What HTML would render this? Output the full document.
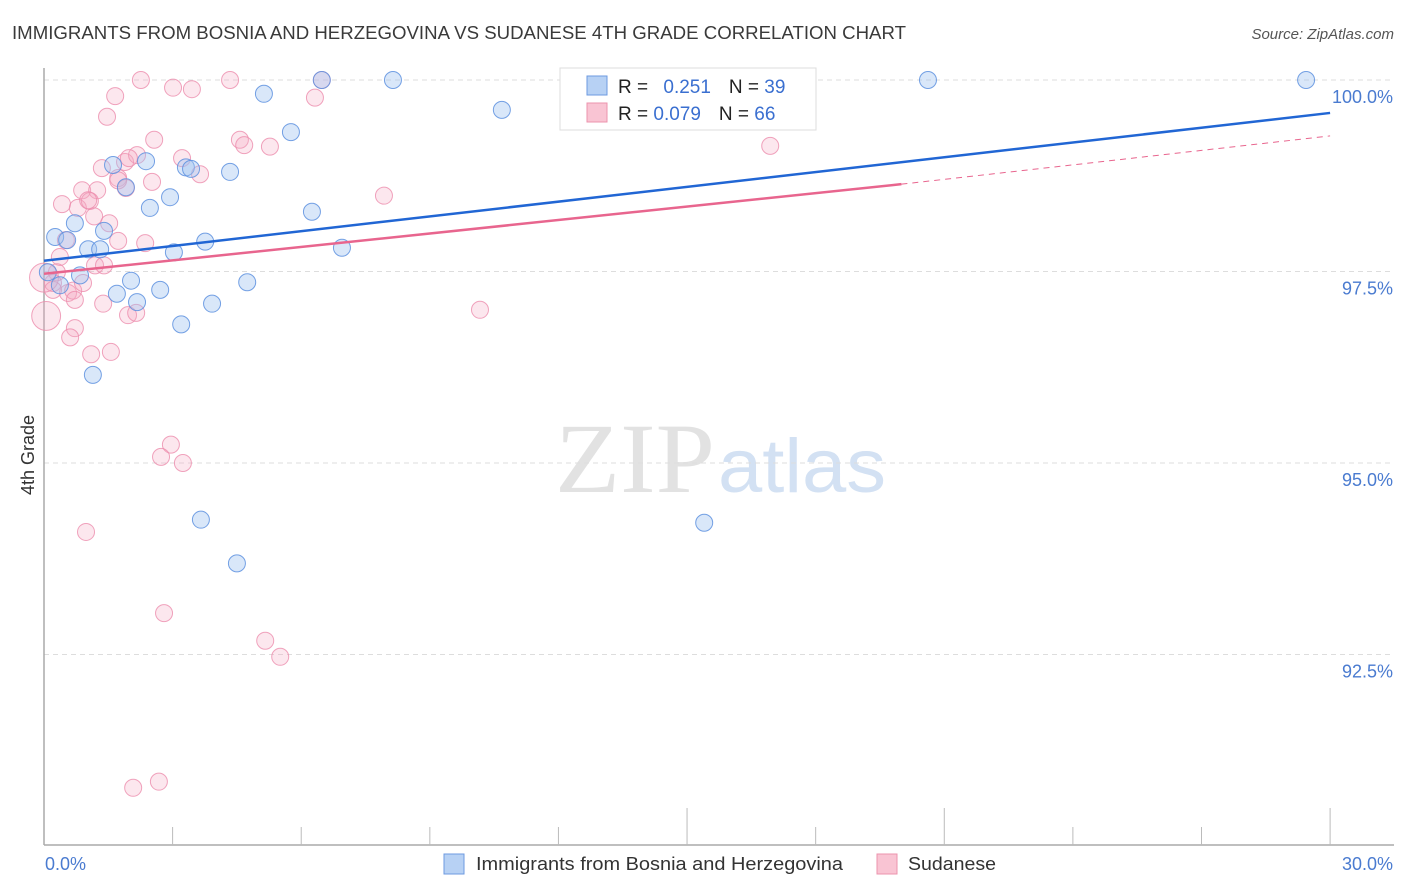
<!DOCTYPE html>
<html><head><meta charset="utf-8"><style>
body{margin:0;background:#fff;font-family:"Liberation Sans",sans-serif;}
#wrap{position:relative;width:1406px;height:892px;overflow:hidden;}
</style></head><body>
<div id="wrap">
<svg id="svg" width="1406" height="892" xmlns="http://www.w3.org/2000/svg">
<text x="12" y="39" font-size="18" fill="#3a3a3a" textLength="894" lengthAdjust="spacingAndGlyphs">IMMIGRANTS FROM BOSNIA AND HERZEGOVINA VS SUDANESE 4TH GRADE CORRELATION CHART</text>
<text x="1394" y="39" font-size="15" fill="#555" font-style="italic" text-anchor="end">Source: ZipAtlas.com</text>
<text x="34" y="455" font-size="18" fill="#333" text-anchor="middle" transform="rotate(-90 34 455)">4th Grade</text>
<text x="555" y="492" font-size="100" fill="#e2e2e2" font-family="Liberation Serif,serif" textLength="160" lengthAdjust="spacingAndGlyphs">ZIP</text>
<text x="718" y="492" font-size="76" fill="#d3e1f3" textLength="168" lengthAdjust="spacingAndGlyphs">atlas</text>
<g id="grid"></g><g id="axes"></g><g id="pts"></g><g id="lines"></g>
<g>
<rect x="560" y="68" width="256" height="62" fill="#fff" stroke="#ddd"/>
<rect x="587" y="76" width="20" height="19" fill="#b7d1f4" stroke="#6c9ae0"/>
<rect x="587" y="103" width="20" height="19" fill="#f9c4d3" stroke="#ec93ae"/>
<text x="618" y="93" font-size="19" fill="#222">R = <tspan fill="#3a6fd0" dx="10">0.251</tspan><tspan dx="18" fill="#222">N = </tspan><tspan fill="#3a6fd0">39</tspan></text>
<text x="618" y="120" font-size="19" fill="#222">R = <tspan fill="#3a6fd0">0.079</tspan><tspan dx="18" fill="#222">N = </tspan><tspan fill="#3a6fd0">66</tspan></text>
</g>
<text x="45" y="870" font-size="18" fill="#4a7bd0">0.0%</text>
<text x="1393" y="870" font-size="18" fill="#4a7bd0" text-anchor="end">30.0%</text>
<rect x="444" y="854" width="20" height="20" fill="#b7d1f4" stroke="#6c9ae0"/>
<text x="476" y="870" font-size="18" fill="#333" textLength="367" lengthAdjust="spacingAndGlyphs">Immigrants from Bosnia and Herzegovina</text>
<rect x="877" y="854" width="20" height="20" fill="#f9c4d3" stroke="#ec93ae"/>
<text x="908" y="870" font-size="18" fill="#333" textLength="88" lengthAdjust="spacingAndGlyphs">Sudanese</text>
</svg></div>
<script>
const yTicks=[100,97.5,95,92.5];
const yTickLabels=["100.0%","97.5%","95.0%","92.5%"];
const blueX=[0.26,0.54,0.72,1.03,1.31,0.84,1.40,1.61,1.91,2.38,2.47,2.94,3.31,3.43,3.03,3.76,4.34,5.13,5.76,6.25,6.95,6.48,8.14,10.68,20.62,29.44,1.70,2.03,2.17,2.71,3.20,3.92,4.74,1.14,3.66,4.50,15.40,0.37,0.09];
const blueY=[97.95,97.91,98.13,97.79,97.79,97.45,98.03,98.89,98.60,98.94,98.33,98.47,98.86,98.84,97.75,97.89,98.80,99.82,99.32,98.28,97.81,100,100,99.61,100,100,97.21,97.38,97.10,97.26,96.81,97.08,97.36,96.15,94.26,93.69,94.22,97.32,97.49];
const pinkX=[2.26,4.34,6.48,3.01,3.45,6.32,1.66,1.47,2.57,4.57,4.67,5.27,16.94,1.89,2.17,3.22,1.98,1.35,3.64,1.73,2.52,0.89,1.24,1.91,0.42,0.79,1.07,1.17,1.52,7.93,2.36,1.73,0.37,1.19,1.40,0.30,0.21,0.56,0.68,0.91,1.38,1.96,2.15,0.72,0.61,1.10,1.56,10.17,2.96,2.73,3.24,0.98,2.80,5.16,5.51,2.08,2.68,0.51,0.21,1.03,1.73,0.72,0.05,0.0];
const pinkY=[100,100,100,99.90,99.88,99.77,99.79,99.52,99.22,99.22,99.15,99.13,99.14,98.93,99.02,98.98,98.98,98.85,98.77,98.72,98.67,98.56,98.56,98.59,98.38,98.33,98.42,98.22,98.13,98.49,97.87,97.90,97.69,97.58,97.58,97.49,97.35,97.22,97.25,97.35,97.08,96.93,96.96,96.76,96.64,96.42,96.45,97.0,95.24,95.08,95.00,94.10,93.04,92.68,92.47,90.76,90.84,97.91,97.26,98.43,98.69,97.13,96.92,97.42];
const pinkW=pinkY.map((v,i)=>i>=pinkY.length-2?1.7:1);
const blueTrend=[[0,97.64],[30,99.57]];
const pinkTrend=[[0,97.47],[20,98.64],[30,99.27]];
const X=v=>44+v*42.87, Y=v=>80+(100-v)*76.6;
const NS="http://www.w3.org/2000/svg";
function mk(t,a,p){const e=document.createElementNS(NS,t);for(const k in a)e.setAttribute(k,a[k]);p.appendChild(e);return e;}
const grid=document.getElementById('grid'),axes=document.getElementById('axes');
yTicks.forEach((v,i)=>{
 const l=mk('line',{x1:44,x2:1394,y1:Y(v),y2:Y(v),stroke:'#ddd','stroke-dasharray':'5,4'},grid);
 
 
 const t=mk('text',{x:1393,y:Y(v)+23,'font-size':18,fill:'#4a7bd0','text-anchor':'end'},grid);
 t.textContent=yTickLabels[i];
 
 
});
const ax=mk('line',{x1:44,x2:44,y1:68,y2:845,stroke:'#aaa','stroke-width':1.5},axes);


const bx=mk('line',{x1:44,x2:1394,y1:845,y2:845,stroke:'#aaa','stroke-width':1.5},axes);


for(let i=1;i<=10;i++){const v=i*3;const tall=(i==5||i==7||i==10);
 const t=mk('line',{x1:X(v),x2:X(v),y1:tall?808:827,y2:845,stroke:'#bbb'},axes);
 
 }
const pts=document.getElementById('pts');
pinkX.forEach((v,i)=>{const c=mk('circle',{cx:X(v),cy:Y(pinkY[i]),r:8.5*pinkW[i],fill:'rgba(246,170,195,0.28)',stroke:'rgba(236,140,172,0.8)','stroke-width':1},pts);
 
 });
blueX.forEach((v,i)=>{const c=mk('circle',{cx:X(v),cy:Y(blueY[i]),r:8.5,fill:'rgba(160,196,240,0.4)',stroke:'rgba(93,144,223,0.85)','stroke-width':1},pts);
 
 });
const lines=document.getElementById('lines');
const b=mk('line',{x1:X(blueTrend[0][0]),y1:Y(blueTrend[0][1]),x2:X(blueTrend[1][0]),y2:Y(blueTrend[1][1]),stroke:'#2166d4','stroke-width':2.5},lines);


const p=mk('line',{x1:X(pinkTrend[0][0]),y1:Y(pinkTrend[0][1]),x2:X(pinkTrend[1][0]),y2:Y(pinkTrend[1][1]),stroke:'#e8658e','stroke-width':2.5},lines);


const pd=mk('line',{x1:X(pinkTrend[1][0]),y1:Y(pinkTrend[1][1]),x2:X(pinkTrend[2][0]),y2:Y(pinkTrend[2][1]),stroke:'#e8658e','stroke-width':1,'stroke-dasharray':'6,5'},lines);


</script></body></html>
